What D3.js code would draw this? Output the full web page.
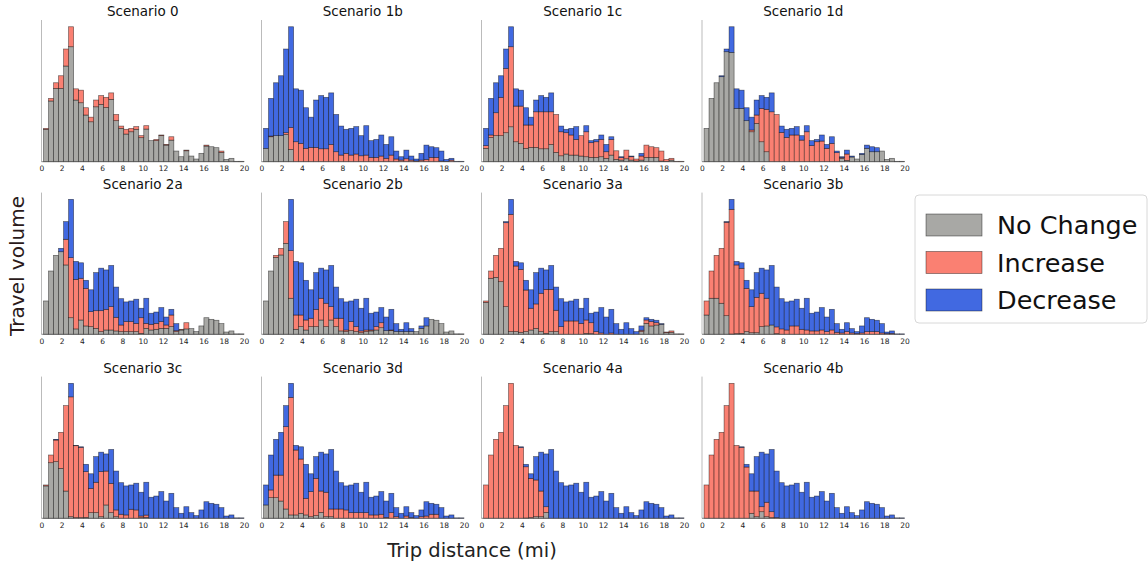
<!DOCTYPE html>
<html>
<head>
<meta charset="utf-8">
<script src="https://cdn.jsdelivr.net/npm/d3@7"></script>
<style>
  body { margin: 0; background: #fff; }
  text { font-family: "DejaVu Sans", sans-serif; }
</style>
</head>
<body>
<svg id="vis"></svg>
<script>
// trip distance bins (mi): 40 bins from 0.2 to 20
const BIN_LO = 0.2, BIN_HI = 20, N_BINS = 40;
const binEdges = d3.range(N_BINS + 1).map(i => BIN_LO + i * (BIN_HI - BIN_LO) / N_BINS);

const categories = ['No Change', 'Increase', 'Decrease'];
const colours = ['#a8a8a5', '#fa8072', '#4169e1'];
const xTicks = [0, 2, 4, 6, 8, 10, 12, 14, 16, 18, 20];

// total travel volume per bin (same in every scenario), peak = 100
const total = [24.7,46.9,58.5,63.7,83.5,100,54,53,40,33,45.7,49,47.7,51,35,26.4,24,24.7,26,19.3,26.7,15.6,16.5,19.8,12.8,18.5,7.9,3.7,8.6,4.2,2,6.2,12.3,11.1,10.4,7.9,1.7,2.5,0.3,0.3];

const scenarios = ['Scenario 0','Scenario 1b','Scenario 1c','Scenario 1d','Scenario 2a','Scenario 2b','Scenario 3a','Scenario 3b','Scenario 3c','Scenario 3d','Scenario 4a','Scenario 4b'];

// "No Change" part of each bin
const noChange = [
  [24,45,54.3,54.3,70.9,85.2,45.7,43.7,34.6,29.6,40.7,42.5,40.2,46.2,30.4,24.7,20.5,22.2,24,17.8,24.2,15.6,15.6,19.3,12.3,16,7.9,3.7,8.1,4.2,2,6.2,11.6,11.1,10.4,6.9,1.7,2.5,0.3,0.3],
  [9.9,18.5,19.3,19.3,20.2,9.1,0,0,0,0,0,0,0,0,0,0,0,0,0,0,0,0,0,0,0,0,0,0,0,0,0,0,0,0,0,0,0,0,0,0],
  [9.9,18,19.3,19.3,21.5,25.9,14.8,13.6,9.9,10.6,10.6,9.6,9.6,12.8,6.9,4.4,5.7,4.9,4.9,4.2,3.7,3.2,3.2,3.7,2.5,4.9,1.7,1.2,2.2,1.2,0.5,1.2,3.2,3.2,3.2,0.5,0.2,1.2,0,0],
  [24.7,46.9,58.5,63,81.5,81,39.5,39.5,30.4,22.2,28.4,14.8,7.4,0,0,0,0,0,0,0,0,0,0,0,0,0,0,2.5,1,3.5,2,5.4,9.9,7.4,7.4,7.9,1.7,2.5,0.3,0.3],
  [24.7,46.9,58.5,61.2,51.4,12.3,4,10.6,6.2,5.7,4.4,2,3.2,3.2,2.5,2,2,2,2,0.7,4.4,3.2,3.7,4.4,4.4,5.7,2,3.2,4,4.2,2,6.2,12.3,11.1,10.4,7.9,1.7,2.5,0.3,0.3],
  [24.7,46.9,57,58.8,67.4,26.7,3.7,5.7,3.2,5.7,5.7,10.6,5.7,10.6,5.7,2.5,2,2.7,2,1.2,2,2.5,3.2,4.9,2.7,2.7,2,2,2,2,2,4.4,6.2,11.1,10.4,7.9,1.7,2.5,0.3,0.3],
  [23.7,41.5,42.2,39,20.5,2,2,1.5,2,3.2,4.4,2,0.7,2,2,0,0,0,0,0,0.7,0.5,0,0,0,0,0,0,0,0,0,2,8.1,6.2,6.9,7.4,1.2,1.5,0.3,0.3],
  [14.3,26.7,26.7,23,13.8,0.2,0.5,0.7,2,1.2,1.2,5.7,6.2,6.9,0.5,0,0,0,0,0,0,0,0,0,0,0,0,0,0,0,0,0,0,0,0,0,0,0,0,0],
  [24,41.2,42,37,20.2,1.2,0.5,0.5,0.7,4.2,4.2,1.2,9.9,4.2,1.2,0,0,0,0,0.5,0.7,0,0,0,0,0,0,0,0,0,0,0,0,0,0,0,0,0,0,0],
  [9.9,15.3,15.3,12.8,6.9,2.5,2.5,3.7,2.5,1.2,2,4.4,1.2,1.2,0,0,0,0,0,0,0,0,0,0,0,0,0,0,0,0,0,0,0,0,0,0,0,0,0,0],
  [0,0,0,0,0,0,0,0,0.2,0.5,1.2,1.2,4.4,0,0,0,0,0,0,0,0,0,0,0,0,0,0,0,0,0,0,0,0,0,0,0,0,0,0,0],
  [0,0,0,0,0,0,0,0,0,3.7,1.2,4.9,1.2,0.5,0,0,0,0,0,0,0,0,0,0,0,0,0,0,0,0,0,0,0,0,0,0,0,0,0,0]
];

// "Increase" part of each bin
const increase = [
  [0.7,1.9,4.2,9.4,12.6,14.8,8.3,9.3,5.4,3.4,5,6.5,7.5,4.8,4.6,1.7,3.5,2.5,2,1.5,2.5,0,0.9,0.5,0.5,2.5,0,0,0.5,0,0,0,0.7,0,0,1,0,0,0,0],
  [0,0.5,0,0,1.3,16.3,14.8,13.6,9.9,10.6,10.6,9.6,9.6,12.8,7.4,4.9,6.2,4.9,5.7,4.4,4.9,3.2,3.2,4.2,2.5,4.9,2,1.2,2.2,1.2,0.5,1.2,1.7,3.2,3.2,0.5,0.2,1.2,0,0],
  [2,1.8,17,28.4,47.6,59.3,26.4,27.6,17.3,16.6,26.4,27.4,27.4,24.2,28.1,17.8,15.8,14.9,11.6,15.1,18.5,10.9,11.6,12.8,4.9,11.6,6.4,1.8,6.4,2.5,1.5,3,9.1,7.9,7.2,7.4,1.5,1.3,0.3,0.3],
  [0,0,0,0,0,0,0,0,0,1.3,6.2,24.7,31.4,37,35,21.7,18,19.8,19.8,16,22.2,11.9,14.8,15.3,9.9,13.6,6.7,0.5,4.7,0,0,0,0,0,0,0,0,0,0,0],
  [0,0,0,0,19,44.5,36.7,30.9,27.8,11.1,13.1,15.5,15.3,17.3,10.1,4.9,7.4,7.4,6.1,11.6,3.7,4.2,4.4,5,2.5,8.6,0.7,0.5,4.6,0,0,0,0,0,0,0,0,0,0,0],
  [0,0,1.5,4.9,16.1,35.3,10.6,8.6,7.4,6.2,12.8,16.1,17.3,9.9,6.2,9.4,1.2,6.7,3.7,1.3,1.2,0.7,2.5,3.7,0,0.5,0,0,0,0,0,0,0,0,0,0,0,0,0,0],
  [1,5.4,16.3,24.7,62.2,86.9,48.6,46.6,30.8,16.1,18.1,28.4,32.6,31.3,15.8,5.7,9.9,9.9,9.9,8.1,9.9,8.1,2,1,0,1,0,0,0,0,0,1,2.5,3.2,1.7,0,0.5,1,0,0],
  [10.4,20.2,31.8,40.7,69.2,92.4,50.9,48.2,32,19.3,26.2,24.7,20.5,0,5,4,3.2,6.2,6.2,3.7,3.2,2.5,2.5,3.2,2,3.2,1.5,1,2,1,0.5,1,2,2,2,1,0.5,0.7,0,0],
  [0.7,5.7,16,26.7,63.3,88.8,53.3,52.1,33.9,18,22.5,33.4,25.1,21.7,5,3,2.5,6.7,6.2,1.2,1.7,0,0,0,0,0,0,0,0,0,0,0,0,0,0,0,0,0,0,0],
  [0,5.7,16.7,19.2,61,87.1,48.1,40.2,12.3,18.6,27.6,15.8,18.1,5.7,6.9,6.9,6.2,4.2,4.2,4.2,4.2,2.5,2.5,3,0.7,4.2,1.2,0,1.7,0.5,0,1.2,1.7,3,3,0,0,0,0,0],
  [24.7,46.9,58.5,63.7,83.5,100,54,52.5,38,29.1,27.2,19,4.2,0,0,0,0,0,0,0,0,0,0,0,0,0,0,0,0,0,0,0,0,0,0,0,0,0,0,0],
  [24.7,46.9,58.5,63.7,83.5,100,54,52.6,38,16.5,19,3.7,10.7,4.4,0.5,0,0,0,0,0,0,0,0,0,0,0,0,0,0,0,0,0,0,0,0,0,0,0,0,0]
];

const width = 1148, height = 564;
const svg = d3.select('#vis').attr('width', width).attr('height', height);

const colX = [41.5, 261.5, 481.5, 702];
const rowBase = [161.7, 334.3, 518.3];
const panelW = 202.5, panelH = 141.7;

const x = d3.scaleLinear().domain([0, 20]).range([0, panelW]);
const y = d3.scaleLinear().domain([0, 105]).range([panelH, 0]);

scenarios.forEach(function(name, i) {
    var col = i % 4, row = Math.floor(i / 4);
    var g = svg.append('g')
        .attr('transform', 'translate(' + colX[col] + ',' + (rowBase[row] - panelH) + ')');

    // stacked: no change, increase, decrease (remainder of total)
    var rows = total.map(function(t, b) {
        var nc = noChange[i][b], inc = increase[i][b];
        return { x0: binEdges[b], x1: binEdges[b + 1], parts: [nc, inc, Math.max(0, t - nc - inc)] };
    });
    var series = d3.stack().keys([0, 1, 2]).value((d, k) => d.parts[k])(rows);

    g.selectAll('g.layer').data(series).enter().append('g')
        .attr('class', 'layer')
        .attr('fill', (d, k) => colours[k])
        .selectAll('rect').data(d => d).enter().append('rect')
        .filter(d => d[1] - d[0] > 0)
        .attr('x', d => x(d.data.x0))
        .attr('width', d => x(d.data.x1) - x(d.data.x0))
        .attr('y', d => y(d[1]))
        .attr('height', d => y(d[0]) - y(d[1]))
        .attr('stroke', 'rgba(0,0,0,0.55)')
        .attr('stroke-width', 0.7);

    // spines
    g.append('line').attr('x1', 0).attr('x2', 0).attr('y1', 0).attr('y2', panelH)
        .attr('stroke', '#bbb').attr('stroke-width', 1);
    g.append('line').attr('x1', 0).attr('x2', panelW).attr('y1', panelH).attr('y2', panelH)
        .attr('stroke', '#555').attr('stroke-width', 0.7);

    var axis = g.append('g').attr('transform', 'translate(0,' + panelH + ')')
        .call(d3.axisBottom(x).tickValues(xTicks).tickSize(0).tickPadding(4));
    axis.select('.domain').remove();
    axis.selectAll('text').attr('font-size', 7.5).attr('fill', '#222')
        .attr('font-family', '"DejaVu Sans", sans-serif');

    g.append('text')
        .attr('x', panelW / 2).attr('y', -4)
        .attr('text-anchor', 'middle')
        .attr('font-size', 13.5).attr('fill', '#111')
        .text(name);
});

// axis labels
svg.append('text')
    .attr('transform', 'translate(24,266) rotate(-90)')
    .attr('text-anchor', 'middle')
    .attr('font-size', 20).attr('fill', '#2b1a1a')
    .text('Travel volume');

svg.append('text')
    .attr('x', 472).attr('y', 557)
    .attr('text-anchor', 'middle')
    .attr('font-size', 19.5).attr('fill', '#222')
    .text('Trip distance (mi)');

// legend
var legend = svg.append('g').attr('transform', 'translate(915,195)');
legend.append('rect')
    .attr('width', 232).attr('height', 128).attr('rx', 4)
    .attr('fill', '#fff').attr('stroke', '#d8d8d8');
categories.forEach(function(c, k) {
    var cy = 30 + k * 37.5;
    legend.append('rect')
        .attr('x', 11).attr('y', cy - 11).attr('width', 56).attr('height', 22)
        .attr('fill', colours[k]).attr('stroke', 'rgba(0,0,0,0.55)').attr('stroke-width', 0.7);
    legend.append('text')
        .attr('x', 82).attr('y', cy).attr('dy', '0.36em')
        .attr('font-size', 25.5).attr('fill', '#111')
        .text(c);
});
</script>
</body>
</html>
